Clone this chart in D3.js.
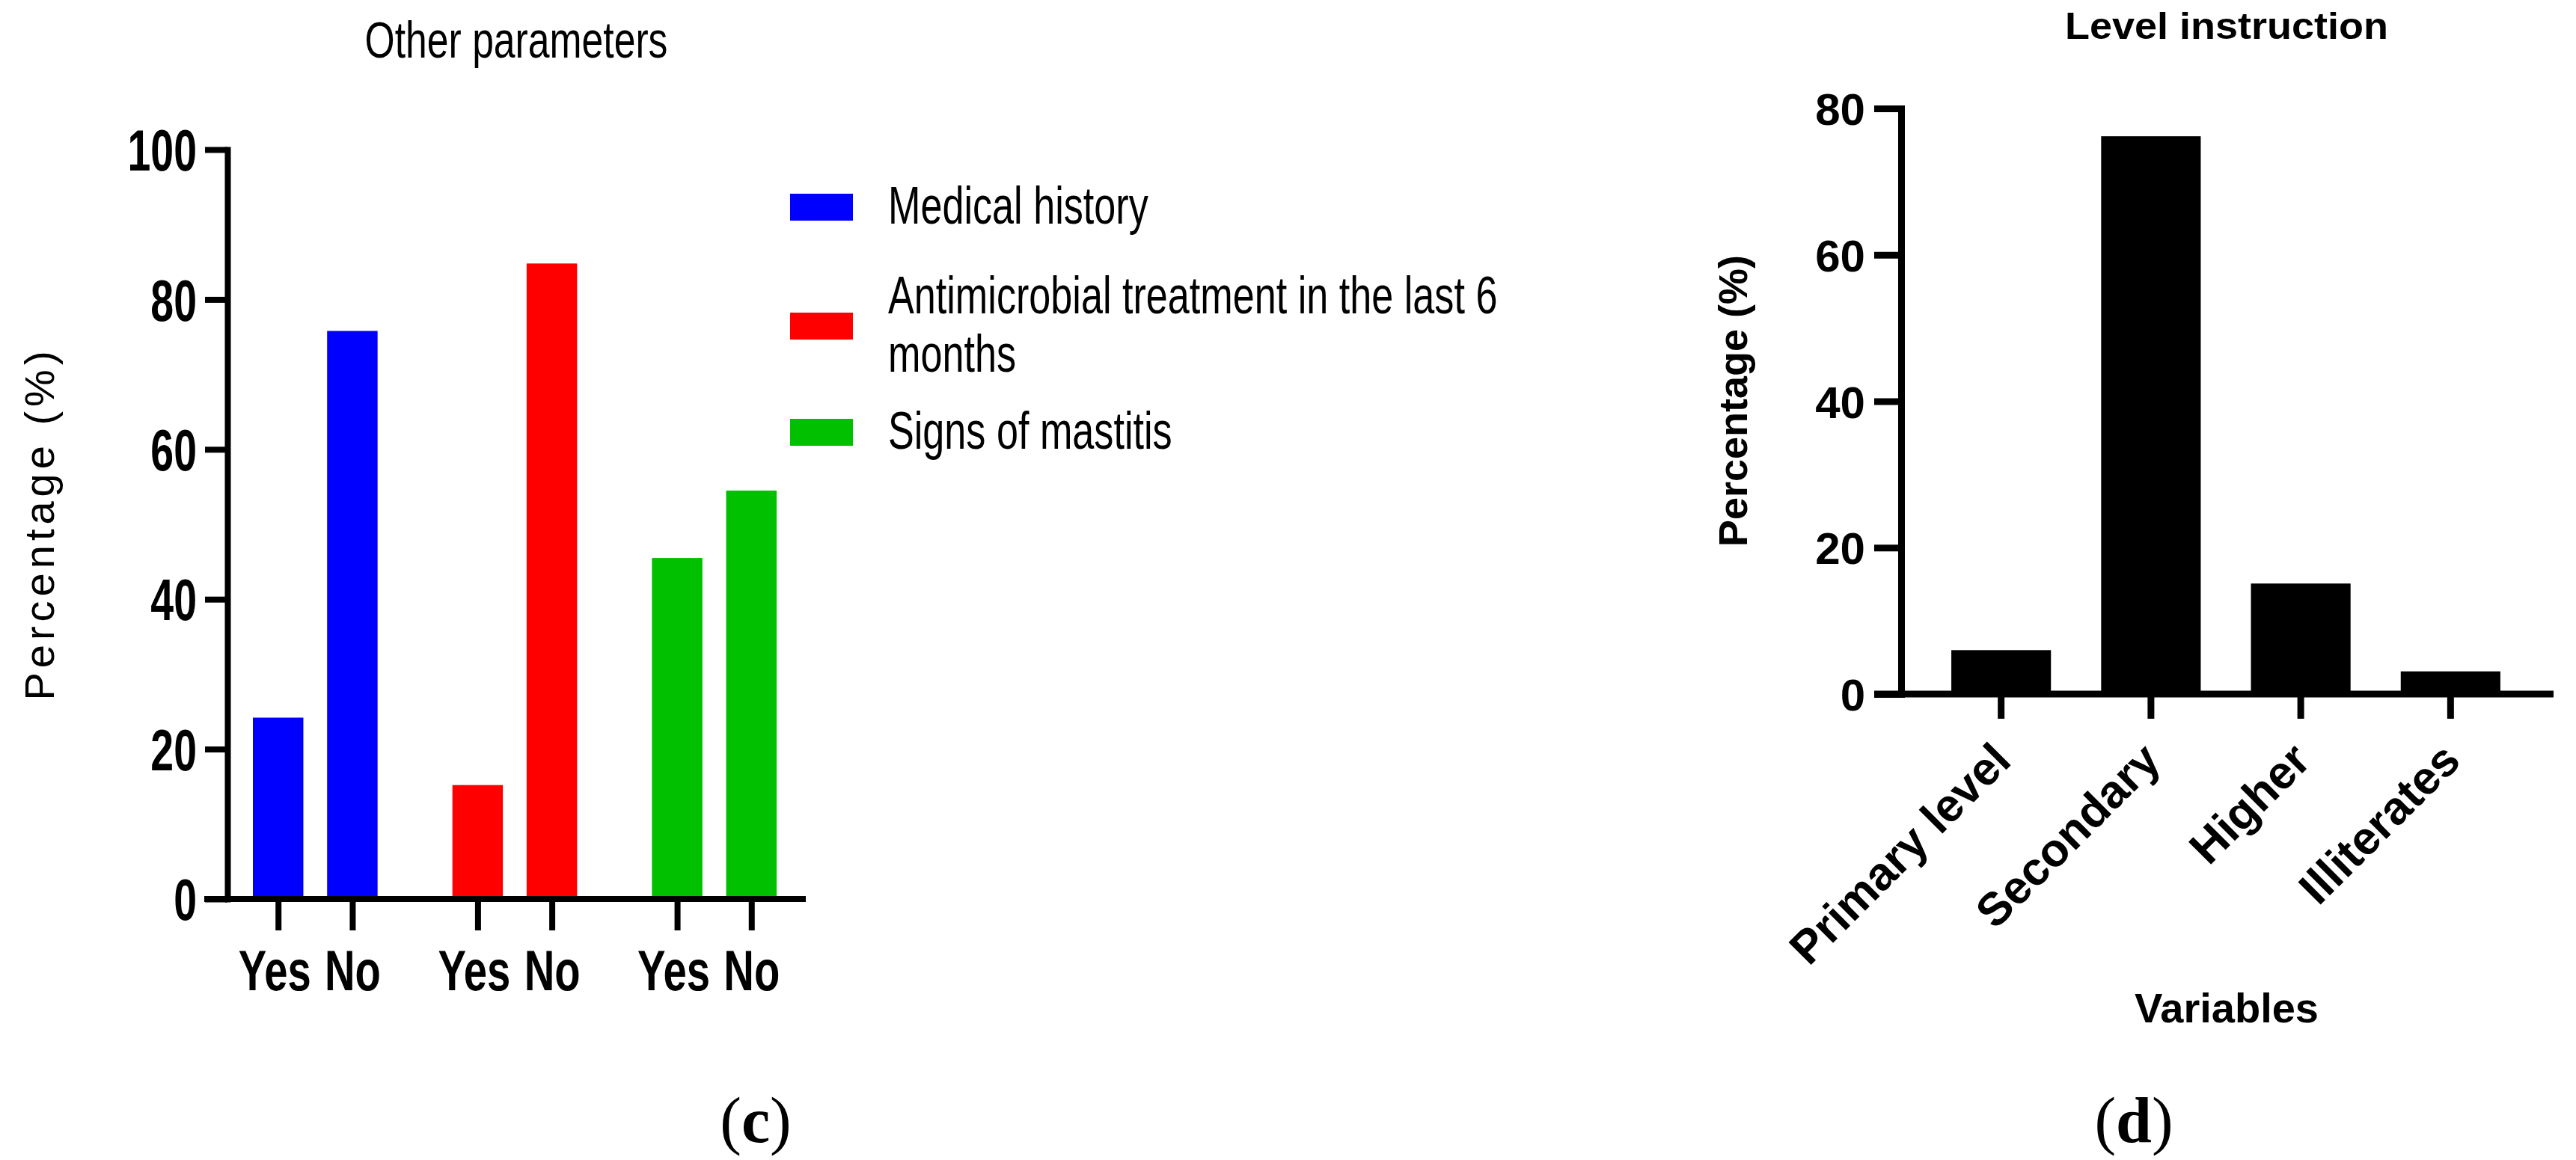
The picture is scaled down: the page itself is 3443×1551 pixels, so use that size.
<!DOCTYPE html>
<html>
<head>
<meta charset="utf-8">
<script src="https://cdn.jsdelivr.net/npm/d3@7"></script>
<style>
  html, body { margin: 0; padding: 0; background: #ffffff; }
  svg { display: block; }
</style>
</head>
<body>
<script>
// ---------------- DATA ----------------
const groups = ["Medical history", "Antimicrobial treatment in the last 6 months", "Signs of mastitis"];
const answers = ["Yes", "No"];
const medicalHistory = [24.2, 75.8];
const antimicrobialTreatment = [15.2, 84.8];
const signsOfMastitis = [45.5, 54.5];
const groupValues = [medicalHistory, antimicrobialTreatment, signsOfMastitis];
const groupColors = ["#0000FF", "#FF0000", "#00C000"];
const legendLines = [["Medical history"], ["Antimicrobial treatment in the last 6", "months"], ["Signs of mastitis"]];
const leftTicks = [0, 20, 40, 60, 80, 100];

const levels = ["Primary level", "Secondary", "Higher", "Illiterates"];
const levelValues = [6.0, 76.2, 15.1, 3.1];
const rightTicks = [0, 20, 40, 60, 80];

// ---------------- SETUP ----------------
const W = 3443, H = 1551;
const SANS = "'Liberation Sans', Arial, Helvetica, sans-serif";
const SERIF = "'Liberation Serif', 'Times New Roman', serif";
const svg = d3.select("body").append("svg").attr("width", W).attr("height", H)
  .attr("font-family", SANS);

function label(g, o) {
  const t = g.append("text")
    .attr("transform", `translate(${o.x},${o.y}) rotate(${o.rotate || 0}) scale(${o.sx || 1},1)`)
    .attr("text-anchor", o.anchor || "middle")
    .attr("font-size", o.size)
    .attr("font-weight", o.weight || "normal")
    .attr("font-family", o.family || SANS)
    .attr("fill", "#000");
  if (o.ls) t.attr("letter-spacing", o.ls);
  return t;
}

// ================= LEFT CHART (c) =================
const L = svg.append("g");
const yL = d3.scaleLinear().domain([0, 100]).range([1202, 200]);
const xGroup = d3.scaleBand().domain(groups).range([288, 1088]).paddingInner(0.375).paddingOuter(0.1875);
const xAns = d3.scaleBand().domain(answers).range([0, xGroup.bandwidth()]).paddingInner(0.32).paddingOuter(0);

// bars
groups.forEach((gName, i) => {
  L.append("g").selectAll("rect")
    .data(answers.map((a, j) => ({ a, v: groupValues[i][j] })))
    .join("rect")
    .attr("x", d => xGroup(gName) + xAns(d.a))
    .attr("y", d => yL(d.v))
    .attr("width", xAns.bandwidth())
    .attr("height", d => yL(0) - yL(d.v))
    .attr("fill", groupColors[i]);
});

// y axis
const yAxisL = L.append("g").attr("transform", "translate(304,0)")
  .call(d3.axisLeft(yL).tickValues(leftTicks).tickSize(30).tickSizeOuter(0).tickFormat(d3.format("d")));
yAxisL.select(".domain").attr("stroke", "#000").attr("stroke-width", 8).attr("stroke-linecap", "square");
yAxisL.selectAll(".tick line").attr("stroke", "#000").attr("stroke-width", 8);
yAxisL.selectAll(".tick text")
  .attr("x", null).attr("dy", "0.36em")
  .attr("transform", "translate(-41,0) scale(0.72,1)")
  .attr("text-anchor", "end")
  .attr("font-size", 77).attr("font-weight", "bold").attr("font-family", SANS).attr("fill", "#000");

// x axis baseline
L.append("line").attr("x1", 273).attr("x2", 1077).attr("y1", yL(0)).attr("y2", yL(0))
  .attr("stroke", "#000").attr("stroke-width", 8);

// x axis ticks at each bar centre
const barKeys = groups.flatMap(g => answers.map(a => g + "|" + a));
const barCentres = groups.flatMap(g => answers.map(a => xGroup(g) + xAns(a) + xAns.bandwidth() / 2));
const xBars = d3.scaleOrdinal().domain(barKeys).range(barCentres);
const xAxisL = L.append("g").attr("transform", `translate(0,${yL(0)})`)
  .call(d3.axisBottom(xBars).tickSize(42).tickSizeOuter(0).tickFormat(d => d.split("|")[1]));
xAxisL.select(".domain").remove();
xAxisL.selectAll(".tick line").attr("stroke", "#000").attr("stroke-width", 8);
xAxisL.selectAll(".tick text")
  .attr("y", null).attr("dy", null)
  .attr("transform", d => `translate(${d.endsWith("Yes") ? -5 : 0},122) scale(0.74,1)`)
  .attr("text-anchor", "middle")
  .attr("font-size", 76).attr("font-weight", "bold").attr("font-family", SANS).attr("fill", "#000");

// title
label(L, { x: 690, y: 77, size: 68, sx: 0.76 }).text("Other parameters");

// y label
label(L, { x: 72, y: 700, size: 56, rotate: -90, ls: 6 }).text("Percentage (%)");

// legend
const legendCentres = [277, 436, 578];
const lineGap = 78.6;
legendLines.forEach((lines, i) => {
  const cy = legendCentres[i];
  L.append("rect").attr("x", 1056).attr("y", cy - 18).attr("width", 84).attr("height", 36).attr("fill", groupColors[i]);
  const firstBase = cy + 22 - (lines.length - 1) * lineGap / 2;
  lines.forEach((ln, k) => {
    label(L, { x: 1187, y: firstBase + k * lineGap, size: 70, sx: 0.745, anchor: "start" }).text(ln);
  });
});

// panel letter
const tc = label(L, { x: 1010, y: 1527, size: 86, family: SERIF });
tc.append("tspan").text("(");
tc.append("tspan").attr("font-weight", "bold").text("c");
tc.append("tspan").text(")");

// ================= RIGHT CHART (d) =================
const R = svg.append("g");
const yR = d3.scaleLinear().domain([0, 80]).range([928, 145]);
const xR = d3.scaleBand().domain(levels).range([2541, 3409]).paddingInner(0.335).paddingOuter(0.335);

R.append("g").selectAll("rect")
  .data(levels.map((l, i) => ({ l, v: levelValues[i] })))
  .join("rect")
  .attr("x", d => xR(d.l))
  .attr("y", d => yR(d.v))
  .attr("width", xR.bandwidth())
  .attr("height", d => yR(0) - yR(d.v))
  .attr("fill", "#000");

const yAxisR = R.append("g").attr("transform", "translate(2541,0)")
  .call(d3.axisLeft(yR).tickValues(rightTicks).tickSize(36).tickSizeOuter(0).tickFormat(d3.format("d")));
yAxisR.select(".domain").attr("stroke", "#000").attr("stroke-width", 9).attr("stroke-linecap", "square");
yAxisR.selectAll(".tick line").attr("stroke", "#000").attr("stroke-width", 9);
yAxisR.selectAll(".tick text")
  .attr("x", -48).attr("dy", "0.36em")
  .attr("text-anchor", "end")
  .attr("font-size", 60).attr("font-weight", "bold").attr("font-family", SANS).attr("fill", "#000");

R.append("line").attr("x1", 2505).attr("x2", 3413).attr("y1", yR(0)).attr("y2", yR(0))
  .attr("stroke", "#000").attr("stroke-width", 9);

const xAxisR = R.append("g").attr("transform", `translate(0,${yR(0)})`)
  .call(d3.axisBottom(xR).tickSize(33).tickSizeOuter(0));
xAxisR.select(".domain").remove();
xAxisR.selectAll(".tick line").attr("stroke", "#000").attr("stroke-width", 9);
xAxisR.selectAll(".tick text")
  .attr("y", null).attr("dy", null)
  .attr("transform", "translate(16,92) rotate(-45)")
  .attr("text-anchor", "end")
  .attr("font-size", 62).attr("font-weight", "bold").attr("font-family", SANS).attr("fill", "#000");

label(R, { x: 2976, y: 52, size: 50, weight: "bold", sx: 1.08 }).text("Level instruction");
label(R, { x: 2335, y: 536, size: 54, weight: "bold", rotate: -90 }).text("Percentage (%)");
label(R, { x: 2976, y: 1367, size: 56, weight: "bold" }).text("Variables");

const td = label(R, { x: 2852, y: 1527, size: 86, family: SERIF });
td.append("tspan").text("(");
td.append("tspan").attr("font-weight", "bold").text("d");
td.append("tspan").text(")");
</script>
</body>
</html>
